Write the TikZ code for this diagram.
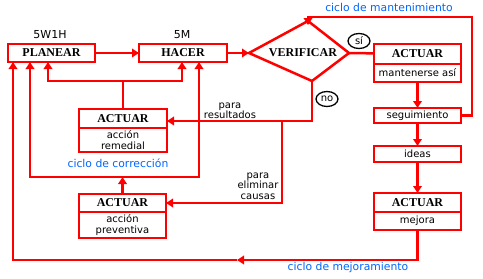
\documentclass[tikz,border=0pt]{standalone}
\usepackage{fontspec}
\setmainfont{DejaVu Sans}
\newfontfamily\titlefont{Liberation Serif}
\usepackage{tikz}
\usetikzlibrary{
	arrows.meta,
	calc,
	positioning,
	shapes.geometric
}
\definecolor{CycleBlue}{RGB}{0,102,255}
\definecolor{FlowRed}{RGB}{255,0,0}

\begin{document}
\begin{tikzpicture}[x=1pt, y=-1pt,
		tbox/.style={draw=FlowRed, line width=2.5pt, inner sep=0pt, outer sep=0pt, align=center, font=\fontsize{10}{10.5}\selectfont},
		hbox/.style={tbox, font=\titlefont\bfseries\fontsize{12}{12}\selectfont},
		link/.style={draw=FlowRed, line width=2.5pt},
		arr/.style={link, -{Triangle[length=7pt,width=8.5pt]}},
		note/.style={inner sep=0pt, align=center, font=\fontsize{10}{10.5}\selectfont},
		cyclelabel/.style={inner sep=0pt, text=CycleBlue, font=\fontsize{10.8}{12}\selectfont},
		answer/.style={draw, ellipse, line width=1.3pt, minimum width=22pt, minimum height=15pt, inner sep=0pt, font=\fontsize{10}{10}\selectfont}
	]
		\useasboundingbox (0,0) rectangle (483,279);
		
		\node[hbox, minimum width=87pt, minimum height=18pt] (plan) at (51.5,53) {PLANEAR};
		\node[hbox, minimum width=88pt, minimum height=18pt] (hacer) at (183,53) {HACER};
		\node[note, font=\fontsize{11}{11}\selectfont] (plantag) at (50,35) {5W1H};
		\node[note, font=\fontsize{11}{11}\selectfont] (hacertag) at (182,35) {5M};
		
		\coordinate (vL) at (249,53);
		\coordinate (vT) at (308,21);
		\coordinate (vR) at (349,53);
		\coordinate (vB) at (312,81);
		\draw[link] (vL) -- (vT) -- (vR) -- (vB) -- cycle;
		\node[hbox, draw=none] (verif) at (303,53) {VERIFICAR};
		
		\node[hbox, minimum width=87pt, minimum height=20pt] (mantT) at (417.5,54) {ACTUAR};
		\node[tbox, minimum width=87pt, minimum height=18pt] (mantB) at (417.5,73) {mantenerse así};
		\node[tbox, minimum width=87pt, minimum height=15pt] (seg) at (417.5,115.5) {seguimiento};
		\node[tbox, minimum width=87pt, minimum height=16pt] (ideas) at (417.5,154) {ideas};
		\node[hbox, minimum width=87pt, minimum height=19pt] (mejT) at (417.5,202.5) {ACTUAR};
		\node[tbox, minimum width=87pt, minimum height=18pt] (mejB) at (417.5,221) {mejora};
		
		\node[hbox, minimum width=88pt, minimum height=19pt] (remT) at (123,118.5) {ACTUAR};
		\node[tbox, minimum width=88pt, minimum height=24pt] (remB) at (123,140) {acción\\remedial};
		\node[hbox, minimum width=87pt, minimum height=18pt] (prevT) at (122.5,203) {ACTUAR};
		\node[tbox, minimum width=87pt, minimum height=26pt] (prevB) at (122.5,225) {acción\\preventiva};
		
		\node[answer] (yes) at (359,41) {sí};
		\node[answer] (no) at (327,99) {no};
		\node[note] (resnote) at (230,111) {para\\resultados};
		\node[note] (causenote) at (258,186) {para\\eliminar\\causas};
		\node[cyclelabel] (keeplabel) at (389,7) {ciclo de mantenimiento};
		\node[cyclelabel] (corlabel) at (118,163) {ciclo de corrección};
		\node[cyclelabel] (betterlabel) at (348,268) {ciclo de mejoramiento};
		
		\draw[arr] (plan) -- (hacer);
		\draw[arr] (hacer) -- (vL);
		\draw[link] (vR) -- (mantT);
		\draw[arr] (mantB) -- (seg);
		\draw[arr] (seg) -- (ideas);
		\draw[arr] (ideas) -- (mejT);
		
		\coordinate (keepturn) at (472,17);
		\draw[arr] (seg.east) -| (keepturn) -| ($(vT)+(0,4)$);
		
		\coordinate (noturn) at (312,121);
		\coordinate (elimturn) at (282,121);
		\draw[arr] (vB) -- (noturn) -- (noturn -| remT.east);
		\draw[arr] (elimturn) |- (prevT.east);
		
		\coordinate (remjoin) at (123,81);
		\draw[link] (remT.north) -- (remjoin);
		\draw[arr] (remjoin) -| ($(plan.south)+(-3.5,0)$);
		\draw[arr] (remjoin) -| ($(hacer.south)+(-1,0)$);
		
		\coordinate (corjoin) at (122.5,177);
		\draw[arr] (prevT.north) -- (corjoin);
		\draw[arr] (corjoin) -| ($(plan.south)+(-21.5,0)$);
		\draw[arr] (corjoin) -| ($(hacer.south)+(16,0)$);
		
		\coordinate (betterturn) at (237,260);
		\draw[arr] (mejB.south) |- (betterturn);
		\draw[arr] (betterturn) -| ($(plan.south)+(-38.5,0)$);
	\end{tikzpicture}
\end{document}
